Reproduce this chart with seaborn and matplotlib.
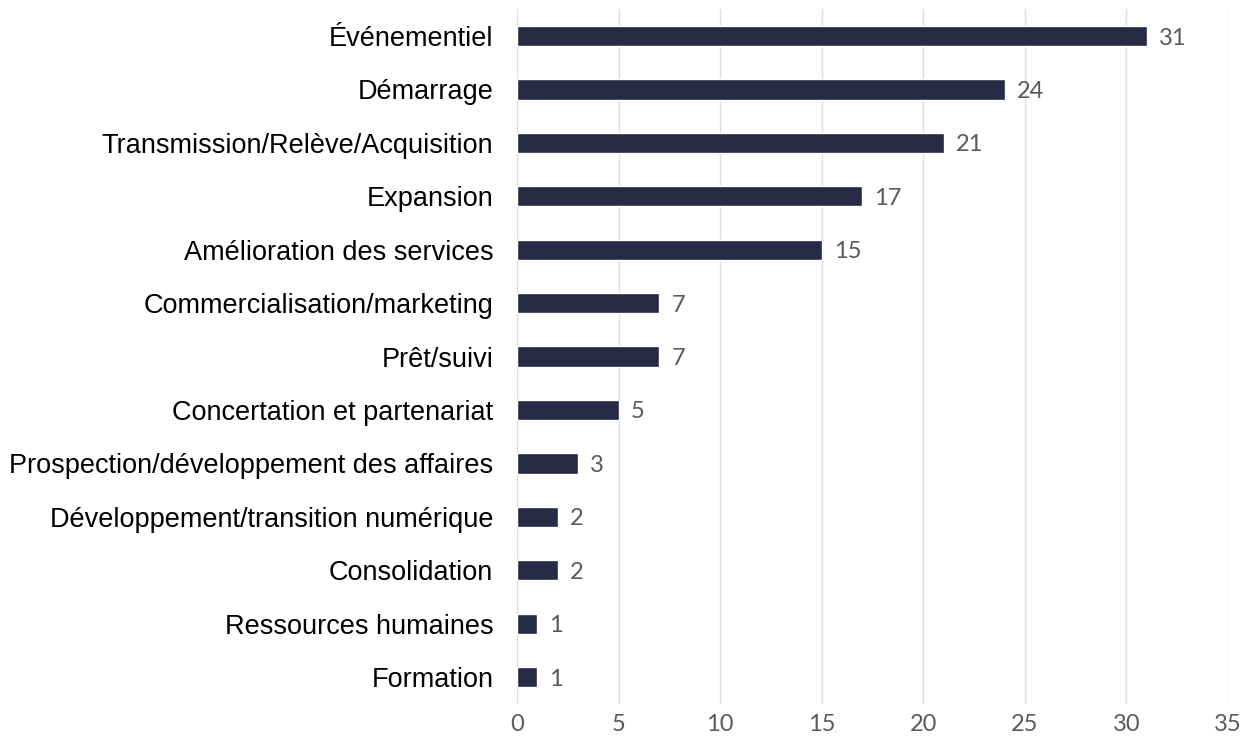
import matplotlib
matplotlib.use("Agg")
import matplotlib.pyplot as plt
import seaborn as sns
import pandas as pd

sns.set_theme(style="whitegrid")

categories = [
    "Événementiel",
    "Démarrage",
    "Transmission/Relève/Acquisition",
    "Expansion",
    "Amélioration des services",
    "Commercialisation/marketing",
    "Prêt/suivi",
    "Concertation et partenariat",
    "Prospection/développement des affaires",
    "Développement/transition numérique",
    "Consolidation",
    "Ressources humaines",
    "Formation",
]
counts = [31, 24, 21, 17, 15, 7, 7, 5, 3, 2, 2, 1, 1]
x_ticks = [0, 5, 10, 15, 20, 25, 30, 35]

df = pd.DataFrame({"categorie": categories, "nombre": counts})

bar_color = "#262a44"
num_font = ["Lato", "DejaVu Sans"]
num_color = "#5a5a5a"

fig = plt.figure(figsize=(12.56, 7.44), dpi=100)
ax = fig.add_axes([0.4116, 0.054, 0.9777 - 0.4116, 0.9875 - 0.054])

sns.barplot(data=df, y="categorie", x="nombre", color=bar_color,
            width=0.38, saturation=1, ax=ax)

# value labels at the end of each bar
for i, v in enumerate(counts):
    ax.text(v + 0.6, i, str(v), va="center_baseline", ha="left",
            fontsize=17, color=num_color, family=num_font)

ax.set_xlim(0, 35)
ax.set_ylim(len(categories) - 0.5, -0.5)
ax.set_xticks(x_ticks)
ax.set_xticklabels([str(t) for t in x_ticks], family=num_font,
                   fontsize=17, color=num_color)
ax.set_yticks(range(len(categories)))
ax.set_yticklabels(categories, family=["Liberation Sans", "DejaVu Sans"],
                   fontsize=19.5, color="black")
ax.tick_params(axis="y", length=0, pad=17)
ax.tick_params(axis="x", length=0, pad=7)
ax.set_xlabel("")
ax.set_ylabel("")
ax.grid(axis="y", visible=False)
ax.grid(axis="x", color="#dedede", linewidth=1)
ax.set_axisbelow(True)
sns.despine(left=True, bottom=True, ax=ax)
ax.set_facecolor("white")
fig.patch.set_facecolor("white")

fig.savefig("out.png", dpi=100, facecolor="white")
